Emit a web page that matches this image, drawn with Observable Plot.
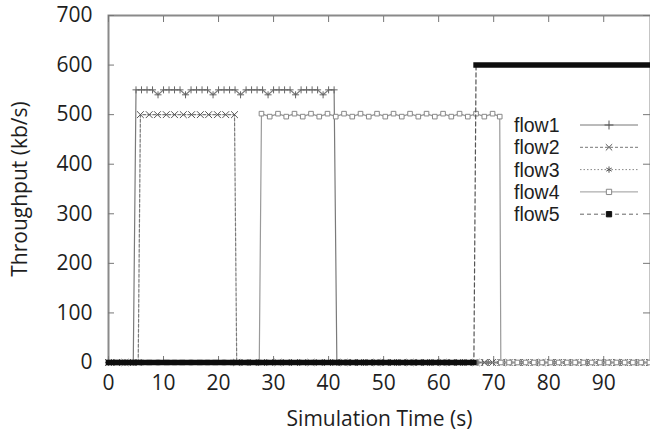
<!DOCTYPE html>
<html><head><meta charset="utf-8">
<script src="https://cdn.jsdelivr.net/npm/d3@7"></script>
<script src="https://cdn.jsdelivr.net/npm/@observablehq/plot@0.6"></script>
<style>body{margin:0;background:#fff}svg{display:block}</style>
</head><body><div id="chart"></div>
<script>
const xTicks = [0,10,20,30,40,50,60,70,80,90];
const yTicks = [0,100,200,300,400,500,600,700];
const flowNames = ["flow1","flow2","flow3","flow4","flow5"];

const flow1Time = [0,1,2,3,4,4.5,5,6,7,8,9,10,11,12,13,14,15,16,17,18,19,20,21,22,23,24,25,26,27,28,29,30,31,32,33,34,35,36,37,38,39,40,41,41.5,
  42,43,44,45,46,47,48,49,50,51,52,53,54,55,56,57,58,59,60,61,62,63,64,65,66,67,68,69,70,71,72,73,74,75,76,77,78,79,80,81,82,83,84,85,86,87,88,89,90,91,92,93,94,95,96,97,98];
const flow1Value = [0,0,0,0,0,0,
  550,550,550,550,540, 550,550,550,550,540, 550,550,550,550,540, 550,550,550,550,540,
  550,550,550,550,540, 550,550,550,550,540, 550,550,550,550,540, 550,550, 0,
  0,0,0,0,0,0,0,0,0,0, 0,0,0,0,0,0,0,0,0,0, 0,0,0,0,0,0,0,0,0,0, 0,0,0,0,0,0,0,0,0,0, 0,0,0,0,0,0,0,0,0,0, 0,0,0,0,0,0,0];

const flow2Time = [0,1.5,3,4.5,5.4,
  5.8,7.4,8.9,10.5,12,13.6,15.1,16.7,18.2,19.8,21.3,22.9,
  23.3,24.8,26.3,27.8,29.3,30.8,32.3,33.8,35.3,36.8,38.3,39.8,41.3,42.8,44.3,45.8,47.3,48.8,50.3,51.8,
  53.3,54.8,56.3,57.8,59.3,60.8,62.3,63.8,65.3,66.8,68.3,69.8,71.3,72.8,74.3,75.8,77.3,78.8,80.3,81.8,
  83.3,84.8,86.3,87.8,89.3,90.8,92.3,93.8,95.3,96.8,98.3];
const flow2Value = [0,0,0,0,0,
  500,500,500,500,500,500,500,500,500,500,500,500,
  0,0,0,0,0,0,0,0,0,0, 0,0,0,0,0,0,0,0,0,0, 0,0,0,0,0,0,0,0,0,0, 0,0,0,0,0,0,0,0,0,0, 0,0,0,0,0,0,0,0,0,0, 0];

const flow3Time = [1,3,5,7,9,11,13,15,17,19,21,23,25,27,29,31,33,35,37,39,41,43,45,47,49,51,53,55,57,59,61,63,65,67,69,71,73,75,77,79,81,83,85,87,89,91,93,95,97];
const flow3Value = [0,0,0,0,0,0,0,0,0,0, 0,0,0,0,0,0,0,0,0,0, 0,0,0,0,0,0,0,0,0,0, 0,0,0,0,0,0,0,0,0,0, 0,0,0,0,0,0,0,0,0];

const flow4Time = [0,1.5,3,4.5,6,7.5,9,10.5,12,13.5,15,16.5,18,19.5,21,22.5,24,25.5,27.4,
  27.8,29.3,30.8,32.3,33.8,35.3,36.8,38.3,39.8,41.3,42.8,44.3,45.8,47.3,48.8,50.3,51.8,53.3,54.8,56.3,
  57.8,59.3,60.8,62.3,63.8,65.3,66.8,68.3,69.8,71.1,
  71.3,72.8,74.3,75.8,77.3,78.8,80.3,81.8,83.3,84.8,86.3,87.8,89.3,90.8,92.3,93.8,95.3,96.8,98.3];
const flow4Value = [0,0,0,0,0,0,0,0,0,0,0,0,0,0,0,0,0,0,0,
  502,496,502,496,502,496,502,496,502,496,502,496,502,496,502,496,502,496,502,496,
  502,496,502,496,502,496,502,496,502,496,
  0,0,0,0,0,0,0,0,0,0,0,0,0,0,0,0,0,0,0];

const flow5Time = [0,66.4,66.8,98.5];
const flow5Value = [0,0,600,600];

const toRows = (T, V) => T.map((t, i) => ({t, v: V[i]}));
const flow1 = toRows(flow1Time, flow1Value);
const flow2 = toRows(flow2Time, flow2Value);
const flow3 = toRows(flow3Time, flow3Value);
const flow4 = toRows(flow4Time, flow4Value);
const flow5 = toRows(flow5Time, flow5Value);

const ink = "#1e1e1e";
const plot = Plot.plot({
  width: 650, height: 434,
  marginLeft: 108, marginRight: 0, marginTop: 15, marginBottom: 72,
  style: {fontFamily: "'Open Sans', sans-serif", fontSize: "21px", color: ink, background: "#fff"},
  x: {domain: [0, 98.5]},
  y: {domain: [0, 700]},
  marks: [
    Plot.frame({stroke: "#8a8a8a", strokeWidth: 2}),
    Plot.axisX(xTicks, {anchor: "bottom", tickSize: 0, tickPadding: 13, fontSize: 21, fill: ink,
      label: "Simulation Time (s)", labelAnchor: "center", labelOffset: 63, labelArrow: "none"}),
    Plot.axisX(xTicks, {anchor: "bottom", tickSize: -6, fill: "none", stroke: "#777", label: null}),
    Plot.axisX(xTicks, {anchor: "top", tickSize: -6, fill: "none", stroke: "#777", label: null}),
    Plot.axisY(yTicks, {anchor: "left", tickSize: 0, tickPadding: 16, fontSize: 21, fill: ink,
      label: "Throughput (kb/s)", labelAnchor: "center", labelOffset: 96, labelArrow: "none"}),
    Plot.axisY(yTicks, {anchor: "left", tickSize: -6, fill: "none", stroke: "#777", label: null}),
    Plot.axisY(yTicks, {anchor: "right", tickSize: -8, fill: "none", stroke: "#777", label: null}),
    // flow1
    Plot.line(flow1, {x: "t", y: "v", stroke: "#7a7a7a", strokeWidth: 1.2}),
    Plot.dot(flow1, {x: "t", y: "v", symbol: "plus", r: 2.4, stroke: "#666", strokeWidth: 1}),
    // flow2
    Plot.line(flow2, {x: "t", y: "v", stroke: "#7a7a7a", strokeWidth: 1.2, strokeDasharray: "3,2"}),
    Plot.dot(flow2, {x: "t", y: "v", symbol: "times", r: 3.2, stroke: "#555", strokeWidth: 1}),
    // flow3
    Plot.line(flow3, {x: "t", y: "v", stroke: "#888", strokeWidth: 1, strokeDasharray: "1.5,2"}),
    Plot.dot(flow3, {x: "t", y: "v", symbol: "asterisk", r: 2.6, stroke: "#777", strokeWidth: 1}),
    // flow4
    Plot.line(flow4, {x: "t", y: "v", stroke: "#9a9a9a", strokeWidth: 1.2}),
    Plot.dot(flow4, {x: "t", y: "v", symbol: "square", r: 2.6, fill: "#fff", stroke: "#888", strokeWidth: 1}),
    // flow5
    Plot.line(flow5, {x: "t", y: "v", stroke: "#555", strokeWidth: 1.2, strokeDasharray: "4,3"}),
    Plot.line(flow5, {x: "t", y: "v", z: "v", stroke: "#0d0d0d", strokeWidth: 5.5, strokeLinecap: "square"})
  ]
});
document.getElementById("chart").appendChild(plot);

// Legend inside the plot area (upper right)
const svg = d3.select(plot);
const leg = svg.append("g")
  .attr("font-family", "'Liberation Sans', Arial, sans-serif")
  .attr("font-size", 19.5).attr("text-anchor", "start").attr("fill", ink);
const legStyles = [
  {dash: null, stroke: "#777", sym: d3.symbolPlus, fill: "none", sstroke: "#555", size: 28},
  {dash: "3,2", stroke: "#777", sym: d3.symbolTimes, fill: "none", sstroke: "#555", size: 28},
  {dash: "1.5,2", stroke: "#888", sym: d3.symbolAsterisk, fill: "none", sstroke: "#555", size: 28},
  {dash: null, stroke: "#999", sym: d3.symbolSquare, fill: "#fff", sstroke: "#888", size: 28},
  {dash: "4,3", stroke: "#666", sym: d3.symbolSquare, fill: "#111", sstroke: "#111", size: 28}
];
flowNames.forEach((name, i) => {
  const yy = 125 + 22.3 * i;
  const s = legStyles[i];
  leg.append("text").attr("x", 514).attr("y", yy + 7).text(name);
  const ln = leg.append("line").attr("x1", 580).attr("x2", 638).attr("y1", yy).attr("y2", yy)
    .attr("stroke", s.stroke).attr("stroke-width", 1);
  if (s.dash) ln.attr("stroke-dasharray", s.dash);
  leg.append("path").attr("d", d3.symbol(s.sym, s.size)()).attr("transform", `translate(609,${yy})`)
    .attr("fill", s.fill).attr("stroke", s.sstroke).attr("stroke-width", 1);
});
</script>
</body></html>
